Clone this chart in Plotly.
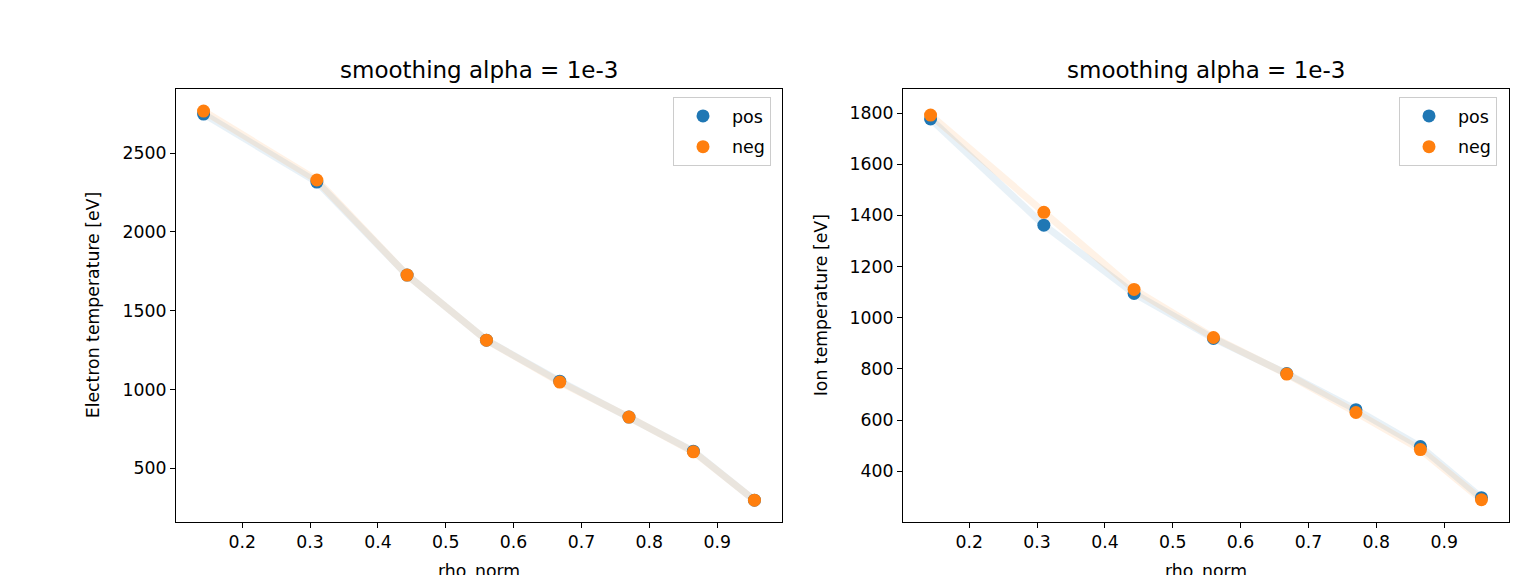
import plotly.graph_objects as go

rho = [0.143, 0.31, 0.443, 0.56, 0.668, 0.77, 0.865, 0.955]

te_pos = [2747, 2316, 1726, 1313, 1053, 825, 609, 298]
te_neg = [2766, 2329, 1726, 1313, 1047, 825, 605, 298]

ti_pos = [1777, 1362, 1095, 919, 782, 641, 497, 297]
ti_neg = [1792, 1412, 1111, 923, 780, 630, 485, 289]

title_text = "smoothing alpha = 1e-3"
x_label = "rho_norm"
y_labels = ["Electron temperature [eV]", "Ion temperature [eV]"]

# page body has an 8px margin; work in screen pixels and shift
OFF = 8
W, H = 1524 - OFF, 575 - OFF
BLUE = "#1f77b4"
ORANGE = "#ff7f0e"
FONT = "DejaVu Sans"

left_box = (176, 782)
right_box = (903, 1509)
top_px, bot_px = 89, 521.5


def px(x):
    return (x - OFF) / W


def py(y):
    return 1 - (y - OFF) / H


fig = go.Figure()

panels = [
    (te_pos, te_neg, "x", "y", "legend"),
    (ti_pos, ti_neg, "x2", "y2", "legend2"),
]

for pos, neg, xa, ya, lg in panels:
    fig.add_trace(go.Scatter(x=rho, y=pos, mode="lines", xaxis=xa, yaxis=ya,
                             line=dict(color="rgba(31,119,180,0.10)", width=7),
                             showlegend=False, hoverinfo="skip"))
    fig.add_trace(go.Scatter(x=rho, y=neg, mode="lines", xaxis=xa, yaxis=ya,
                             line=dict(color="rgba(255,127,14,0.10)", width=7),
                             showlegend=False, hoverinfo="skip"))
    fig.add_trace(go.Scatter(x=rho, y=pos, mode="markers", name="pos", xaxis=xa, yaxis=ya,
                             marker=dict(color=BLUE, size=13), legend=lg, legendgroup="pos"))
    fig.add_trace(go.Scatter(x=rho, y=neg, mode="markers", name="neg", xaxis=xa, yaxis=ya,
                             marker=dict(color=ORANGE, size=13), legend=lg, legendgroup="neg"))

axis_common = dict(showline=True, mirror=True, linecolor="black", linewidth=1,
                   ticks="outside", ticklen=5, tickwidth=1, tickcolor="black",
                   showgrid=False, zeroline=False,
                   tickfont=dict(family=FONT, size=17.3, color="black"))

xr = [0.1024, 0.9956]
legend_common = dict(xanchor="right", yanchor="top", bordercolor="#cccccc", borderwidth=1,
                     bgcolor="rgba(255,255,255,0.8)", itemwidth=48, tracegroupgap=5,
                     font=dict(family=FONT, size=17.5, color="black"))
fig.update_layout(
    width=W, height=H,
    margin=dict(l=0, r=0, t=0, b=0),
    paper_bgcolor="white", plot_bgcolor="white",
    font=dict(family=FONT, color="black"),
    xaxis=dict(domain=[px(left_box[0]), px(left_box[1])], range=xr, dtick=0.1, tick0=0,
               anchor="y", **axis_common),
    yaxis=dict(domain=[py(bot_px), py(top_px)], range=[163, 2906], dtick=500, tick0=0,
               anchor="x", **axis_common),
    xaxis2=dict(domain=[px(right_box[0]), px(right_box[1])], range=xr, dtick=0.1, tick0=0,
                anchor="y2", **axis_common),
    yaxis2=dict(domain=[py(bot_px), py(top_px)], range=[204, 1894], dtick=200, tick0=0,
                anchor="x2", **axis_common),
    legend=dict(x=px(771), y=py(97), **legend_common),
    legend2=dict(x=px(1497), y=py(97), **legend_common),
)

annotations = []
for (l, r), ylab, ytx in [(left_box, y_labels[0], 93), (right_box, y_labels[1], 821)]:
    cx = (l + r) / 2
    annotations.append(dict(text=title_text, x=px(cx), y=py(70), xref="paper", yref="paper",
                            xanchor="center", yanchor="middle", showarrow=False,
                            font=dict(family=FONT, size=23, color="black")))
    annotations.append(dict(text=x_label, x=px(cx), y=py(559), xref="paper", yref="paper",
                            xanchor="center", yanchor="top", showarrow=False,
                            font=dict(family=FONT, size=17.3, color="black")))
    annotations.append(dict(text=ylab, x=px(ytx), y=py((top_px + bot_px) / 2), xref="paper",
                            yref="paper", xanchor="center", yanchor="middle", showarrow=False,
                            textangle=-90, font=dict(family=FONT, size=17.3, color="black")))
fig.update_layout(annotations=annotations)

fig.write_html("out.html")
